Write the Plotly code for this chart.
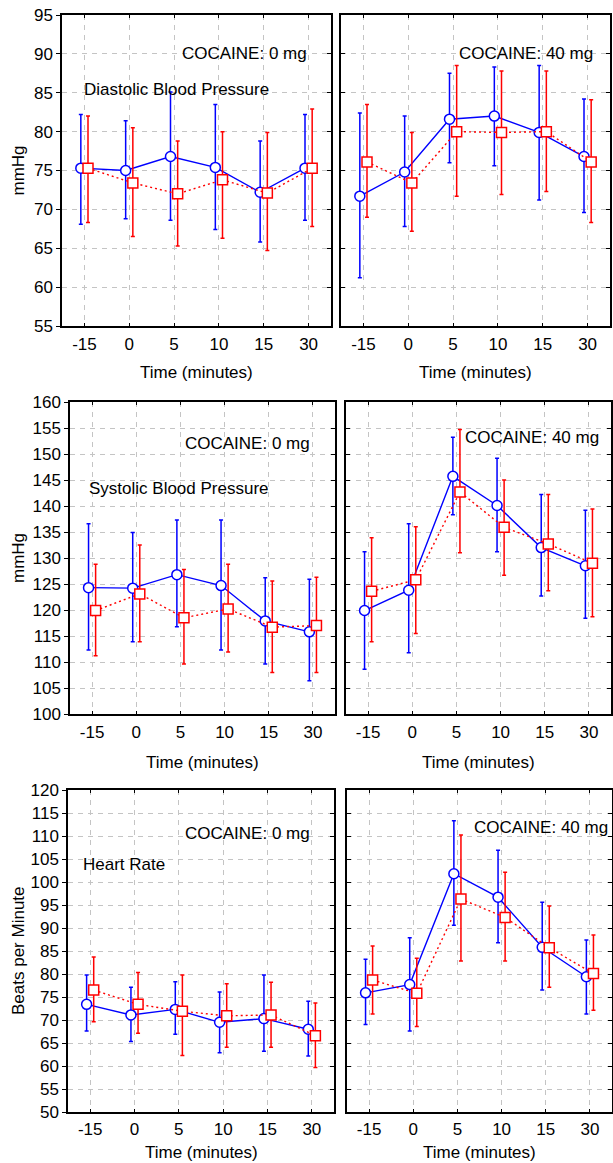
import plotly.graph_objects as go

# ---------------- data ----------------
time_labels = ["-15", "0", "5", "10", "15", "30"]

# Diastolic, cocaine 0 mg
dia0_blue = [75.3, 75.0, 76.8, 75.4, 72.2, 75.3]
dia0_blue_hi = [82.2, 81.4, 85.1, 83.5, 78.8, 82.2]
dia0_blue_lo = [68.1, 68.8, 68.6, 67.4, 65.8, 68.6]
dia0_red = [75.3, 73.4, 72.0, 73.8, 72.1, 75.3]
dia0_red_hi = [82.0, 80.5, 78.8, 80.0, 79.9, 82.9]
dia0_red_lo = [68.3, 66.5, 65.3, 66.3, 64.7, 67.8]

# Diastolic, cocaine 40 mg
dia40_blue = [71.7, 74.8, 81.6, 82.0, 79.9, 76.8]
dia40_blue_hi = [82.4, 82.0, 87.5, 88.3, 88.5, 84.2]
dia40_blue_lo = [61.2, 67.8, 76.0, 75.6, 71.2, 69.6]
dia40_red = [76.1, 73.4, 80.0, 79.9, 80.0, 76.1]
dia40_red_hi = [83.5, 79.9, 88.5, 87.8, 87.8, 84.1]
dia40_red_lo = [69.0, 67.2, 71.7, 71.9, 72.3, 68.3]

# Systolic, cocaine 0 mg
sys0_blue = [124.3, 124.2, 126.8, 124.7, 117.9, 115.8]
sys0_blue_hi = [136.6, 134.9, 137.3, 137.3, 126.2, 125.9]
sys0_blue_lo = [112.3, 113.9, 116.8, 112.3, 109.6, 106.4]
sys0_red = [119.9, 123.1, 118.5, 120.2, 116.7, 117.0]
sys0_red_hi = [128.8, 132.5, 127.8, 128.8, 125.6, 126.3]
sys0_red_lo = [111.2, 113.9, 109.6, 111.9, 108.0, 108.0]

# Systolic, cocaine 40 mg
sys40_blue = [119.9, 123.8, 145.7, 140.1, 132.0, 128.5]
sys40_blue_hi = [131.2, 136.6, 153.2, 149.2, 142.2, 139.2]
sys40_blue_lo = [108.6, 111.8, 138.3, 131.2, 122.7, 118.4]
sys40_red = [123.6, 125.8, 142.7, 135.9, 132.7, 129.0]
sys40_red_hi = [133.9, 136.0, 154.7, 145.0, 142.2, 139.4]
sys40_red_lo = [113.9, 115.5, 131.0, 126.7, 123.7, 118.7]

# Heart rate, cocaine 0 mg
hr0_blue = [73.4, 71.1, 72.3, 69.5, 70.3, 68.0]
hr0_blue_hi = [79.8, 77.1, 78.3, 76.1, 79.8, 74.1]
hr0_blue_lo = [67.6, 65.3, 66.9, 62.9, 63.2, 62.2]
hr0_red = [76.5, 73.4, 71.9, 70.9, 71.1, 66.6]
hr0_red_hi = [83.7, 80.3, 79.8, 77.9, 78.2, 73.7]
hr0_red_lo = [69.6, 67.1, 62.3, 64.1, 64.1, 59.7]

# Heart rate, cocaine 40 mg
hr40_blue = [75.9, 77.7, 101.8, 96.7, 85.8, 79.4]
hr40_blue_hi = [83.2, 87.9, 113.3, 106.9, 95.6, 87.4]
hr40_blue_lo = [69.0, 67.6, 90.6, 86.8, 76.5, 71.3]
hr40_red = [78.7, 75.8, 96.3, 92.3, 85.7, 80.1]
hr40_red_hi = [86.1, 83.4, 110.2, 102.1, 94.8, 88.5]
hr40_red_lo = [71.3, 68.6, 82.8, 82.8, 77.1, 72.1]

dose_labels = ["COCAINE: 0 mg", "COCAINE: 40 mg"]
measure_labels = ["Diastolic Blood Pressure", "Systolic Blood Pressure", "Heart Rate"]
y_titles = ["mmHg", "mmHg", "Beats per Minute"]
x_title = "Time (minutes)"
y_ranges = [(55, 95), (100, 160), (50, 120)]

panels = [
    (dia0_blue, dia0_blue_hi, dia0_blue_lo, dia0_red, dia0_red_hi, dia0_red_lo),
    (dia40_blue, dia40_blue_hi, dia40_blue_lo, dia40_red, dia40_red_hi, dia40_red_lo),
    (sys0_blue, sys0_blue_hi, sys0_blue_lo, sys0_red, sys0_red_hi, sys0_red_lo),
    (sys40_blue, sys40_blue_hi, sys40_blue_lo, sys40_red, sys40_red_hi, sys40_red_lo),
    (hr0_blue, hr0_blue_hi, hr0_blue_lo, hr0_red, hr0_red_hi, hr0_red_lo),
    (hr40_blue, hr40_blue_hi, hr40_blue_lo, hr40_red, hr40_red_hi, hr40_red_lo),
]

# ---------------- layout geometry (pixels) ----------------
W, H = 613, 1163
boxes = [
    (62, 331, 15, 326),
    (341, 610, 15, 326),
    (70, 335, 402, 714),
    (346, 611, 402, 714),
    (68, 334, 790, 1112),
    (347, 612, 790, 1112),
]
dose_pos = [(180, 53), (457, 53), (183, 443), (463, 438), (183, 833), (472, 827)]
measure_pos = [(82, 89), (87, 489), (81, 864)]
xtitle_y = [372, 762, 1152]
xlabel_standoff = [2, 2, 1]

FONT = "Liberation Sans, Arial, sans-serif"
FS = 17
BLUE = "#0000ff"
RED = "#ff0000"
OFF = 0.08

fig = go.Figure()
layout = dict(
    width=W, height=H, margin=dict(l=0, r=0, t=0, b=0, pad=0, autoexpand=False),
    paper_bgcolor="white", plot_bgcolor="white", showlegend=False,
    font=dict(family=FONT, size=FS, color="black"),
)
annotations = []

xs = list(range(len(time_labels)))
for i, (bm, bh, bl, rm, rh, rl) in enumerate(panels):
    n = i + 1
    xa = "x" if n == 1 else f"x{n}"
    ya = "y" if n == 1 else f"y{n}"
    row, col = divmod(i, 2)
    x0, x1, y0, y1 = boxes[i]
    ymin, ymax = y_ranges[row]

    fig.add_trace(go.Scatter(
        x=[v - OFF for v in xs], y=bm, xaxis=xa, yaxis=ya, mode="lines+markers",
        line=dict(color=BLUE, width=1.4),
        marker=dict(symbol="circle", size=10, color="white", line=dict(color=BLUE, width=1.5)),
        error_y=dict(type="data", symmetric=False,
                     array=[h - m for h, m in zip(bh, bm)],
                     arrayminus=[m - l for m, l in zip(bm, bl)],
                     color=BLUE, thickness=1.5, width=2),
    ))
    fig.add_trace(go.Scatter(
        x=[v + OFF for v in xs], y=rm, xaxis=xa, yaxis=ya, mode="lines+markers",
        line=dict(color=RED, width=1.4, dash="2px,3px"),
        marker=dict(symbol="square", size=10, color="white", line=dict(color=RED, width=1.5)),
        error_y=dict(type="data", symmetric=False,
                     array=[h - m for h, m in zip(rh, rm)],
                     arrayminus=[m - l for m, l in zip(rm, rl)],
                     color=RED, thickness=1.5, width=2),
    ))

    xkey = "xaxis" if n == 1 else f"xaxis{n}"
    ykey = "yaxis" if n == 1 else f"yaxis{n}"
    layout[xkey] = dict(
        domain=[x0 / W, x1 / W], anchor=ya, range=[-0.5, len(xs) - 0.5], automargin=False,
        tickvals=xs, ticktext=time_labels, ticks="inside", ticklen=3, tickwidth=1,
        tickcolor="black", showline=True, linecolor="black", linewidth=1.5, mirror="ticks",
        showgrid=True, gridcolor="#c4c4c4", gridwidth=1, griddash="5px,5px", zeroline=False,
        tickfont=dict(size=FS), ticklabelstandoff=xlabel_standoff[row],
    )
    left = col == 0
    layout[ykey] = dict(
        domain=[1 - y1 / H, 1 - y0 / H], anchor=xa, range=[ymin, ymax], dtick=5, automargin=False,
        tick0=0, ticks="outside" if left else "inside", ticklen=4, tickwidth=1,
        tickcolor="black", showline=True, linecolor="black", linewidth=1.5,
        mirror=True if left else "ticks", showticklabels=left,
        showgrid=True, gridcolor="#c4c4c4", gridwidth=1, griddash="5px,5px", zeroline=False,
        tickfont=dict(size=FS),
    )

    dx, dy = dose_pos[i]
    annotations.append(dict(text=dose_labels[col], xref="paper", yref="paper",
                            x=dx / W, y=1 - dy / H, xanchor="left", yanchor="middle",
                            showarrow=False, font=dict(size=FS)))
    annotations.append(dict(text=x_title, xref="paper", yref="paper",
                            x=(x0 + x1) / 2 / W, y=1 - xtitle_y[row] / H,
                            xanchor="center", yanchor="middle", showarrow=False, font=dict(size=FS)))
    if left:
        mx, my = measure_pos[row]
        annotations.append(dict(text=measure_labels[row], xref="paper", yref="paper",
                                x=mx / W, y=1 - my / H, xanchor="left", yanchor="middle",
                                showarrow=False, font=dict(size=FS)))
        annotations.append(dict(text=y_titles[row], xref="paper", yref="paper",
                                x=18 / W, y=1 - (y0 + y1) / 2 / H, xanchor="center", yanchor="middle",
                                textangle=-90, showarrow=False, font=dict(size=FS)))

# right-side inside ticks for left-column panels
for k, n in enumerate([1, 3, 5]):
    m = 7 + k
    xa = "x" if n == 1 else f"x{n}"
    base = "y" if n == 1 else f"y{n}"
    ymin, ymax = y_ranges[k]
    fig.add_trace(go.Scatter(x=[None], y=[None], xaxis=xa, yaxis=f"y{m}", showlegend=False,
                             hoverinfo="skip"))
    layout[f"yaxis{m}"] = dict(
        overlaying=base, anchor=xa, side="right", range=[ymin, ymax], dtick=5, tick0=0,
        ticks="inside", ticklen=4, tickwidth=1, tickcolor="black", showline=False,
        showticklabels=False, showgrid=False, zeroline=False, automargin=False,
    )

layout["annotations"] = annotations
fig.update_layout(**layout)

post = ("document.documentElement.style.margin='0';document.body.style.margin='0';"
        "document.body.style.overflow='hidden';"
        "var d=document.getElementById('{plot_id}');d.style.position='fixed';"
        "d.style.left='0px';d.style.top='0px';")
fig.write_html("out.html", post_script=post, config={"displayModeBar": False})
